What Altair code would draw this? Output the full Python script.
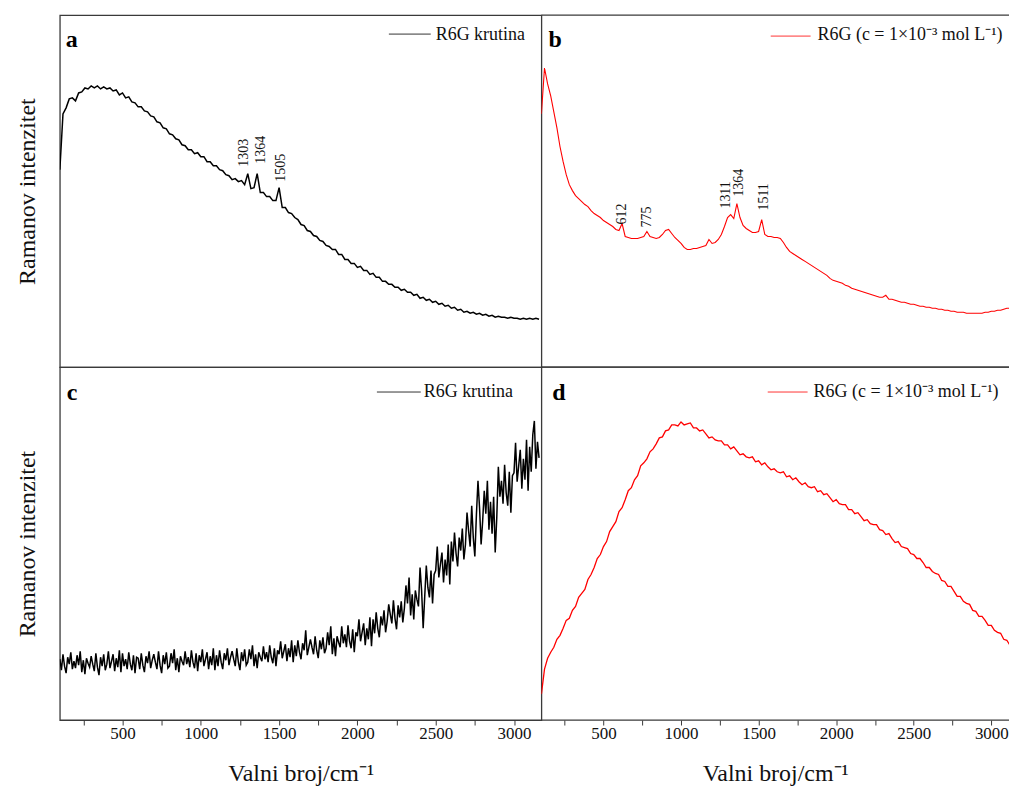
import altair as alt
import pandas as pd

FONT = "Liberation Serif"

# ---------------- data (intensity in arbitrary units) ----------------
wn_a = list(range(100, 3161, 20))
int_a = [198, 254, 260, 269, 270, 267, 275, 276, 280, 279, 282, 280, 282, 279, 281, 279, 280, 277, 278, 273,
         275, 270, 271, 266, 265, 261, 261, 257, 256, 252, 251, 246, 245, 240, 239, 234, 233, 229, 228, 223,
         222, 218, 218, 214, 215, 211, 211, 206, 206, 202, 202, 198, 197, 193, 192, 188, 189, 186, 187, 183,
         194, 179, 180, 194, 175, 175, 171, 171, 167, 167, 180, 160, 160, 155, 154, 150, 148, 143, 142, 137,
         136, 132, 131, 127, 126, 122, 121, 118, 118, 113, 113, 108, 108, 104, 104, 100, 101, 97, 97, 93,
         94, 90, 90, 86, 86, 83, 83, 80, 80, 77, 78, 75, 75, 72, 73, 69, 70, 67, 68, 65,
         66, 63, 64, 61, 62, 59, 60, 57, 58, 55, 56, 54, 55, 53, 54, 52, 53, 51, 52, 50,
         51, 50, 50, 49, 50, 49, 49, 48, 49, 48, 49, 48, 49, 48]

wn_b = list(range(100, 3161, 20))
int_b = [254, 300, 284, 272, 256, 240, 221, 206, 193, 183, 177, 172, 169, 166, 163, 161, 157, 154, 152, 150,
         147, 145, 143, 141, 138, 137, 144, 131, 130, 129, 129, 129, 130, 131, 136, 131, 130, 129, 130, 133,
         137, 138, 134, 130, 127, 124, 120, 118, 118, 119, 119, 120, 121, 122, 128, 124, 125, 128, 133, 141,
         150, 153, 149, 164, 150, 142, 139, 137, 135, 135, 136, 148, 133, 131, 131, 130, 130, 129, 125, 120,
         116, 114, 112, 110, 108, 106, 104, 102, 100, 98, 96, 94, 92, 89, 87, 86, 85, 84, 82, 81,
         79, 78, 77, 76, 75, 74, 73, 72, 71, 70, 70, 72, 68, 68, 67, 66, 65, 65, 64, 63,
         63, 62, 61, 61, 60, 60, 59, 59, 58, 58, 57, 57, 56, 56, 55, 55, 55, 54, 54, 54,
         54, 54, 54, 55, 55, 56, 56, 57, 57, 58, 59, 59, 60, 61]

wn_c = list(range(100, 3161, 10))
int_c = [61, 50, 66, 54, 47, 63, 56, 68, 51, 59,
         52, 65, 55, 69, 48, 60, 46, 62, 57, 53,
         64, 56, 49, 67, 53, 45, 63, 54, 66, 50,
         56, 69, 52, 59, 66, 49, 62, 53, 70, 48,
         67, 54, 61, 51, 68, 56, 50, 65, 47, 63,
         62, 51, 67, 55, 48, 64, 57, 69, 52, 60,
         66, 58, 51, 69, 55, 47, 65, 56, 68, 52,
         54, 67, 57, 71, 50, 62, 48, 64, 59, 55,
         69, 56, 63, 53, 70, 58, 52, 67, 49, 65,
         58, 71, 54, 61, 68, 51, 64, 55, 72, 50,
         65, 54, 70, 58, 51, 67, 60, 72, 55, 63,
         69, 61, 54, 72, 58, 50, 68, 59, 71, 55,
         58, 71, 61, 75, 54, 66, 52, 68, 63, 59,
         74, 61, 68, 58, 75, 63, 57, 72, 54, 70,
         66, 79, 62, 69, 76, 59, 72, 63, 80, 58,
         75, 64, 80, 68, 61, 77, 70, 90, 65, 73,
         81, 73, 66, 84, 70, 62, 80, 71, 83, 67,
         72, 88, 75, 94, 66, 82, 64, 84, 78, 73,
         94, 77, 86, 73, 95, 79, 72, 91, 68, 88,
         84, 101, 79, 88, 97, 75, 92, 81, 103, 74,
         101, 87, 108, 92, 83, 104, 95, 110, 88, 99,
         116, 106, 97, 120, 102, 91, 115, 103, 119, 98,
         112, 135, 117, 143, 105, 126, 101, 130, 121, 114,
         153, 130, 92, 124, 155, 133, 123, 150, 117, 146,
         150, 174, 143, 156, 168, 138, 161, 145, 176, 136,
         179, 159, 188, 167, 154, 183, 170, 192, 161, 176,
         208, 190, 174, 215, 183, 164, 206, 240, 213, 176,
         200, 230, 207, 240, 191, 219, 187, 224, 168, 203,
         254, 224, 240, 217, 256, 228, 215, 249, 208, 245,
         248, 278, 239, 255, 271, 232, 262, 241, 281, 230,
         274, 249, 286, 300, 252, 279, 263]

wn_d = list(range(100, 3161, 20))
int_d = [26, 51, 62, 68, 73, 81, 85, 92, 100, 102, 110, 114, 123, 127, 131, 141, 146, 153, 162, 166,
         174, 179, 189, 194, 199, 209, 213, 221, 230, 233, 241, 245, 255, 258, 262, 269, 272, 277, 283, 284,
         290, 291, 296, 296, 295, 299, 296, 297, 298, 293, 293, 290, 291, 287, 283, 284, 281, 280, 280, 276,
         276, 272, 274, 270, 266, 267, 264, 263, 264, 259, 260, 256, 258, 254, 251, 252, 249, 248, 249, 244,
         245, 241, 243, 239, 236, 238, 234, 233, 234, 229, 230, 226, 227, 223, 219, 221, 217, 216, 216, 211,
         211, 207, 208, 204, 200, 201, 197, 196, 196, 191, 190, 186, 187, 182, 178, 179, 174, 173, 172, 167,
         166, 162, 162, 158, 153, 153, 149, 147, 146, 140, 139, 134, 134, 129, 124, 124, 119, 117, 116, 110,
         109, 104, 104, 100, 95, 95, 90, 88, 87, 81, 80, 75, 76, 72]

# peak annotations: label text, label position (wavenumber), label foot (intensity)
peaks_a_text = ["1303", "1364", "1505"]
peaks_a_x = [1275, 1383, 1514]
peaks_a_y = [201, 204, 186]

peaks_b_text = ["612", "775", "1311", "1364", "1511"]
peaks_b_x = [622, 782, 1291, 1374, 1533]
peaks_b_y = [143, 140, 159, 171, 157]

tick_vals = [250, 500, 750, 1000, 1250, 1500, 1750, 2000, 2250, 2500, 2750, 3000]

legend_solid = "R6G krutina"
legend_sol = "R6G (c = 1×10⁻³ mol L⁻¹)"

FRAME = "#3a3a3a"
LEFT_W, RIGHT_W = 483, 469
TOP_H, BOT_H = 353, 354


def make_panel(wn, inten, color, wn_max, width, height, letter, letter_pos,
               legend_text, legend_pos, show_x, show_y, line_w,
               peak_text=None, peak_x=None, peak_y=None, frame_rules=False):
    df = pd.DataFrame({"wn": wn, "I": inten})
    xscale = alt.Scale(domain=[100, wn_max], nice=False, zero=False)
    yscale = alt.Scale(domain=[0, height], nice=False, zero=False)
    if show_x:
        xaxis = alt.Axis(title="Valni broj/cm⁻¹", values=tick_vals,
                         labelExpr="datum.value % 500 === 0 ? datum.label : ''",
                         format="d", ticks=True, tickSize=5, tickColor=FRAME,
                         tickWidth=1, domain=False, grid=False, labelFont=FONT,
                         labelFontSize=17, labelColor="#111", labelPadding=1,
                         titleFont=FONT, titleFontSize=24, titleFontWeight="normal",
                         titleColor="#111", titlePadding=20, labelFlush=False)
    else:
        xaxis = None
    if show_y:
        yaxis = alt.Axis(title="Ramanov intenzitet", labels=False, ticks=False,
                         domain=False, grid=False, titleFont=FONT, titleFontSize=24,
                         titleFontWeight="normal", titleColor="#111", titlePadding=20)
    else:
        yaxis = None

    X = alt.X("wn:Q", scale=xscale, axis=xaxis)
    Y = alt.Y("I:Q", scale=yscale, axis=yaxis)

    line = alt.Chart(df).mark_line(color=color, strokeWidth=line_w, clip=True).encode(x=X, y=Y)
    layers = [line]

    if peak_text is not None:
        pdf = pd.DataFrame({"wn": peak_x, "I": peak_y, "t": peak_text})
        lab = alt.Chart(pdf).mark_text(angle=270, align="left", baseline="middle",
                                       font=FONT, fontSize=14, color="#111").encode(
            x=X, y=Y, text="t:N")
        layers.append(lab)

    one = pd.DataFrame({"k": [0]})
    lx0, lx1, ly, tx, ty = legend_pos
    leg_line = alt.Chart(one).mark_rule(color=color, strokeWidth=1, opacity=0.8).encode(
        x=alt.value(lx0), x2=alt.value(lx1), y=alt.value(ly))
    leg_text = alt.Chart(one).mark_text(align="left", baseline="alphabetic", font=FONT,
                                        fontSize=18, color="#111").encode(
        x=alt.value(tx), y=alt.value(ty), text=alt.value(legend_text))
    let = alt.Chart(one).mark_text(align="left", baseline="alphabetic", font=FONT,
                                   fontSize=24, fontWeight="bold", color="#000").encode(
        x=alt.value(letter_pos[0]), y=alt.value(letter_pos[1]), text=alt.value(letter))
    layers += [leg_line, leg_text, let]

    if frame_rules:
        top = alt.Chart(one).mark_rule(color=FRAME, strokeWidth=1.3).encode(
            x=alt.value(0), x2=alt.value(width), y=alt.value(0))
        bot = alt.Chart(one).mark_rule(color=FRAME, strokeWidth=1.3).encode(
            x=alt.value(0), x2=alt.value(width), y=alt.value(height))
        layers += [top, bot]

    ch = alt.layer(*layers).properties(width=width, height=height)
    if frame_rules:
        ch = ch.properties(view=alt.ViewBackground(stroke="transparent"))
    return ch


# right panels use a slightly denser wavenumber scale so that they fit the page
R_MAX = 3114

pa = make_panel(wn_a, int_a, "#000000", 3175, LEFT_W, TOP_H, "a", (6, 32),
                legend_solid, (330, 372, 19, 377, 25), False, True, 1.5,
                peaks_a_text, peaks_a_x, peaks_a_y)
pb = make_panel(wn_b, int_b, "#ff0000", R_MAX, RIGHT_W, TOP_H, "b", (7, 32),
                legend_sol, (230, 270, 21, 277, 25), False, False, 1.1,
                peaks_b_text, peaks_b_x, peaks_b_y, frame_rules=True)
pc = make_panel(wn_c, int_c, "#000000", 3175, LEFT_W, BOT_H, "c", (7, 33),
                legend_solid, (318, 362, 25, 365, 30), True, True, 1.5)
pd_ = make_panel(wn_d, int_d, "#ff0000", R_MAX, RIGHT_W, BOT_H, "d", (11, 33),
                 legend_sol, (227, 267, 25, 273, 30), True, False, 1.3,
                 frame_rules=True)

chart = alt.concat(pa, pb, pc, pd_, columns=2, spacing=0, bounds="flush").properties(
    padding={"left": 7, "top": 4, "right": 0, "bottom": 0},
    background="white",
).configure_view(stroke=FRAME, strokeWidth=1.3)

chart.save("out.html", embed_options={"renderer": "svg", "actions": False})
